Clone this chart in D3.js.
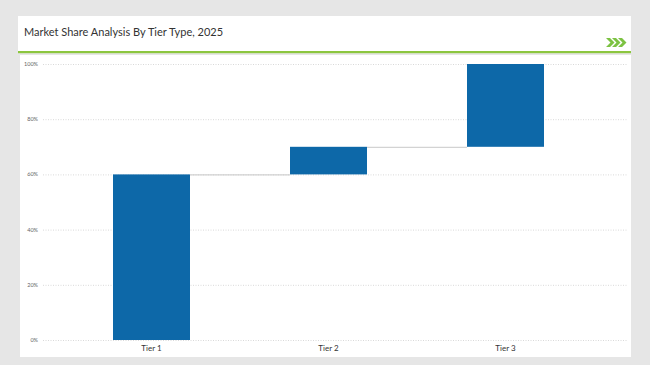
<!DOCTYPE html>
<html>
<head>
<meta charset="utf-8">
<script src="https://cdn.jsdelivr.net/npm/d3@7"></script>
<style>
  body { margin: 0; background: #e6e6e6; }
  svg { display: block; font-family: Lato, "Open Sans", sans-serif; }
</style>
</head>
<body>
<script>
// data
const tiers = ["Tier 1", "Tier 2", "Tier 3"];
const shares = [60, 10, 30];
const yTicks = [0, 20, 40, 60, 80, 100];

const w = 650,
  h = 365;

const svg = d3.select("body")
  .append("svg")
  .attr("width", w)
  .attr("height", h);

// header panel
svg.append("rect")
  .attr("x", 18).attr("y", 16)
  .attr("width", 613).attr("height", 36)
  .attr("fill", "#ffffff");

svg.append("text")
  .attr("x", 24).attr("y", 36)
  .attr("font-size", 11)
  .attr("fill", "#333333")
  .text("Market Share Analysis By Tier Type, 2025");

svg.append("rect")
  .attr("x", 18).attr("y", 51)
  .attr("width", 613).attr("height", 2.2)
  .attr("fill", "#8cc63f");

// chevrons
[0, 6, 12].forEach(function (dx) {
  svg.append("path")
    .attr("d", `M${606 + dx},38 l4,0 l4.5,4.5 l-4.5,4.5 l-4,0 l4.5,-4.5 z`)
    .attr("fill", "#7cc242");
});

// chart panel
svg.append("rect")
  .attr("x", 20).attr("y", 55)
  .attr("width", 611).attr("height", 302)
  .attr("fill", "#ffffff");

const y = d3.scaleLinear()
  .domain([0, 100])
  .range([340, 64]);

const x = d3.scaleBand()
  .domain(tiers)
  .range([63, 594])
  .paddingInner(0.565)
  .paddingOuter(0.2825);

// gridlines
svg.append("g")
  .selectAll("line")
  .data(yTicks)
  .enter()
  .append("line")
  .attr("x1", 43).attr("x2", 628)
  .attr("y1", function (d) { return y(d) + 0.5; })
  .attr("y2", function (d) { return y(d) + 0.5; })
  .attr("stroke", "#d9d9d9")
  .attr("stroke-dasharray", "1,1.5");

svg.append("g")
  .selectAll("text")
  .data(yTicks)
  .enter()
  .append("text")
  .attr("x", 38)
  .attr("y", function (d) { return y(d) + 2; })
  .attr("text-anchor", "end")
  .attr("font-size", 5.5)
  .attr("fill", "#666666")
  .text(function (d) { return d + "%"; });

// waterfall steps
let run = 0;
const steps = shares.map(function (v, i) {
  const s = { tier: tiers[i], start: run, end: run + v };
  run += v;
  return s;
});

// connectors
svg.append("g")
  .selectAll("line")
  .data(steps.slice(0, -1))
  .enter()
  .append("line")
  .attr("x1", function (d) { return x(d.tier) + x.bandwidth(); })
  .attr("x2", function (d, i) { return x(steps[i + 1].tier); })
  .attr("y1", function (d) { return y(d.end) + 0.5; })
  .attr("y2", function (d) { return y(d.end) + 0.5; })
  .attr("stroke", "#c8c8c8")
  .attr("stroke-width", 1);

svg.append("g")
  .selectAll("rect")
  .data(steps)
  .enter()
  .append("rect")
  .attr("x", function (d) { return x(d.tier); })
  .attr("y", function (d) { return y(d.end); })
  .attr("width", x.bandwidth())
  .attr("height", function (d) { return y(d.start) - y(d.end); })
  .attr("fill", "#0d68a8");

svg.append("g")
  .selectAll("text")
  .data(tiers)
  .enter()
  .append("text")
  .attr("x", function (d) { return x(d) + x.bandwidth() / 2; })
  .attr("y", 351)
  .attr("text-anchor", "middle")
  .attr("font-size", 8)
  .attr("fill", "#333333")
  .text(function (d) { return d; });
</script>
</body>
</html>
